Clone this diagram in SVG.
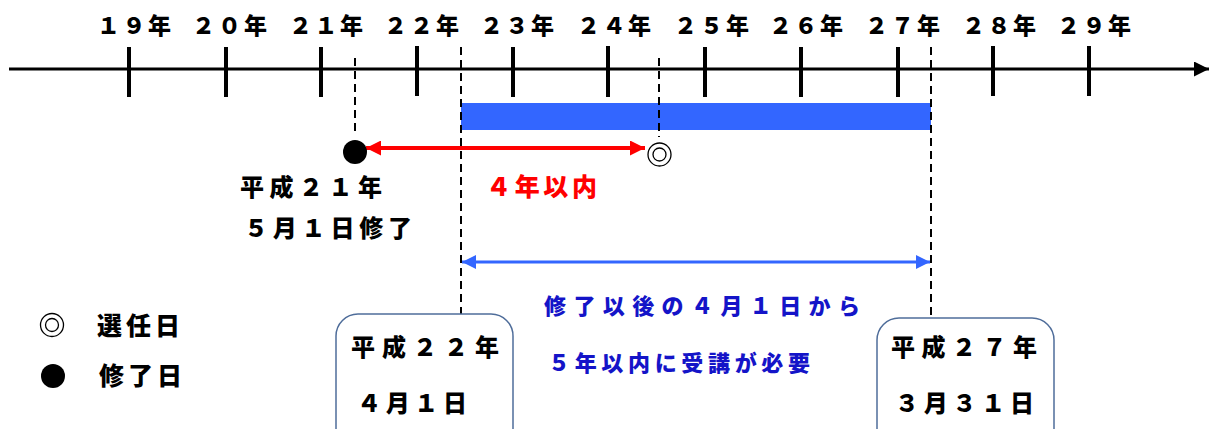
<svg xmlns="http://www.w3.org/2000/svg" width="1210" height="429" viewBox="0 0 1210 429">
<style>
text{font-family:"Noto Sans CJK JP","Noto Sans",sans-serif;font-weight:900;}
.yr{font-size:23px;fill:#000;}
.bk{font-size:24px;fill:#000;}
.lg{font-size:25px;fill:#000;}
.rd{font-size:25px;fill:#FF0000;}
.bl{font-size:22px;fill:#1414C8;}
.dash{stroke:#000;stroke-width:2;stroke-dasharray:8,5;fill:none;}
.tick{stroke:#000;stroke-width:4;}
.box{fill:#fff;stroke:#4F6D9A;stroke-width:1.5;}
</style>
<defs>
<marker id="ah" viewBox="0 0 10 10" refX="10" refY="5" markerWidth="16" markerHeight="15" markerUnits="userSpaceOnUse" orient="auto"><path d="M0,0L10,5L0,10z" fill="#000"/></marker>
<marker id="rh" viewBox="0 0 10 10" refX="10" refY="5" markerWidth="16" markerHeight="15" markerUnits="userSpaceOnUse" orient="auto-start-reverse"><path d="M0,0L10,5L0,10z" fill="#FF0000"/></marker>
<marker id="bh" viewBox="0 0 10 10" refX="10" refY="5" markerWidth="15" markerHeight="14" markerUnits="userSpaceOnUse" orient="auto-start-reverse"><path d="M0,0L10,5L0,10z" fill="#3366FF"/></marker>
</defs>
<rect width="1210" height="429" fill="#fff"/>
<g id="axis">
<line x1="9" y1="69" x2="1209" y2="69" stroke="#000" stroke-width="3" marker-end="url(#ah)"/>
<line class="tick" x1="129" y1="47" x2="129" y2="97"/>
<line class="tick" x1="226" y1="47" x2="226" y2="97"/>
<line class="tick" x1="321" y1="47" x2="321" y2="97"/>
<line class="tick" x1="417" y1="46" x2="417" y2="96"/>
<line class="tick" x1="513" y1="47" x2="513" y2="97"/>
<line class="tick" x1="608" y1="46" x2="608" y2="97"/>
<line class="tick" x1="705" y1="47" x2="705" y2="97"/>
<line class="tick" x1="801" y1="47" x2="801" y2="97"/>
<line class="tick" x1="898" y1="47" x2="898" y2="97"/>
<line class="tick" x1="993" y1="46" x2="993" y2="96"/>
<line class="tick" x1="1089" y1="46" x2="1089" y2="96"/>
</g>
<g id="year-labels">
<text class="yr" x="97" y="34" textLength="74" lengthAdjust="spacing">１９年</text>
<text class="yr" x="192" y="34" textLength="75" lengthAdjust="spacing">２０年</text>
<text class="yr" x="289" y="34" textLength="74" lengthAdjust="spacing">２１年</text>
<text class="yr" x="384" y="34" textLength="75" lengthAdjust="spacing">２２年</text>
<text class="yr" x="480" y="34" textLength="74" lengthAdjust="spacing">２３年</text>
<text class="yr" x="577" y="34" textLength="74" lengthAdjust="spacing">２４年</text>
<text class="yr" x="674" y="34" textLength="75" lengthAdjust="spacing">２５年</text>
<text class="yr" x="769" y="34" textLength="74" lengthAdjust="spacing">２６年</text>
<text class="yr" x="865" y="34" textLength="75" lengthAdjust="spacing">２７年</text>
<text class="yr" x="962" y="34" textLength="74" lengthAdjust="spacing">２８年</text>
<text class="yr" x="1057" y="34" textLength="74" lengthAdjust="spacing">２９年</text>
</g>
<g id="period-bar">
<rect x="461" y="103" width="470" height="27" fill="#3366FF"/>
</g>
<g id="connectors">
<line class="dash" x1="355" y1="58" x2="355" y2="134"/>
<line class="dash" x1="659" y1="58" x2="659" y2="137"/>
<line class="dash" x1="461" y1="47" x2="461" y2="314"/>
<line class="dash" x1="931" y1="47" x2="931" y2="318"/>
<line x1="366" y1="148" x2="645" y2="148" stroke="#FF0000" stroke-width="4" marker-start="url(#rh)" marker-end="url(#rh)"/>
<line x1="462" y1="262" x2="930" y2="262" stroke="#3366FF" stroke-width="3" marker-start="url(#bh)" marker-end="url(#bh)"/>
</g>
<g id="completion-marker">
<circle cx="355" cy="152" r="12" fill="#000"/>
<text class="bk" x="240" y="196" textLength="142" lengthAdjust="spacing">平成２１年</text>
<text class="bk" x="244" y="237" textLength="168" lengthAdjust="spacing">５月１日修了</text>
</g>
<g id="appointment-marker">
<circle cx="659.5" cy="154.5" r="11.5" fill="#fff" stroke="#000" stroke-width="1.3"/>
<circle cx="659.5" cy="154.5" r="6.5" fill="none" stroke="#000" stroke-width="1.3"/>
</g>
<g id="within-4-years">
<text class="rd" x="486" y="196" textLength="111" lengthAdjust="spacing">４年以内</text>
</g>
<g id="requirement-note">
<text class="bl" x="544" y="314" textLength="316" lengthAdjust="spacing">修了以後の４月１日から</text>
<text class="bl" x="548" y="371" textLength="262" lengthAdjust="spacing">５年以内に受講が必要</text>
</g>
<g id="start-box">
<rect class="box" x="336" y="314" width="177" height="140" rx="22"/>
<text class="bk" x="351" y="356" textLength="148" lengthAdjust="spacing">平成２２年</text>
<text class="bk" x="357" y="412" textLength="110" lengthAdjust="spacing">４月１日</text>
</g>
<g id="end-box">
<rect class="box" x="877" y="318" width="177" height="140" rx="22"/>
<text class="bk" x="891" y="356" textLength="146" lengthAdjust="spacing">平成２７年</text>
<text class="bk" x="895" y="412" textLength="139" lengthAdjust="spacing">３月３１日</text>
</g>
<g id="legend">
<circle cx="52" cy="325" r="11.5" fill="#fff" stroke="#000" stroke-width="1.3"/>
<circle cx="52" cy="325" r="6.5" fill="none" stroke="#000" stroke-width="1.3"/>
<text class="lg" x="97" y="335" textLength="83" lengthAdjust="spacing">選任日</text>
<circle cx="53" cy="376" r="12" fill="#000"/>
<text class="lg" x="99" y="385" textLength="83" lengthAdjust="spacing">修了日</text>
</g>
</svg>
